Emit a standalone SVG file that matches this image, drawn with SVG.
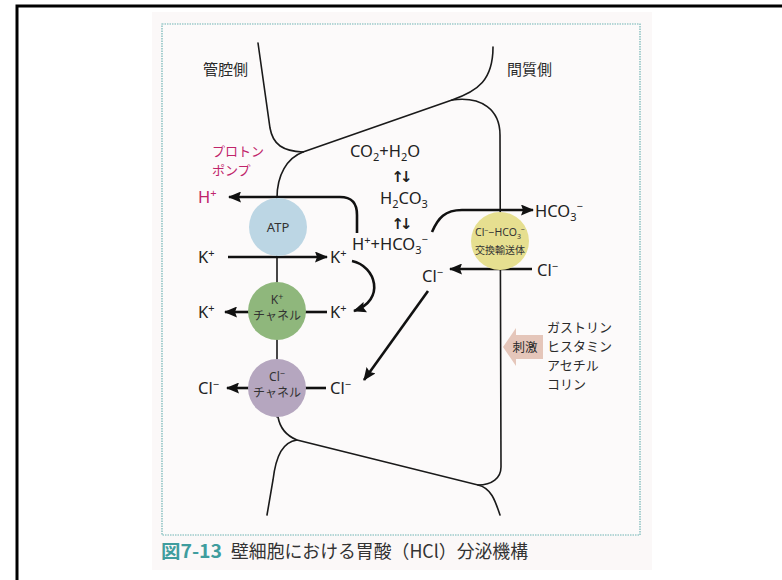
<svg xmlns="http://www.w3.org/2000/svg" width="782" height="580" viewBox="0 0 782 580">
  <style>
    .mem { fill: none; stroke: #1a1a1a; stroke-width: 1.6; stroke-linecap: round; }
    .arr { fill: none; stroke: #111; stroke-width: 2.6; }
    .seg { fill: none; stroke: #111; stroke-width: 2.6; }
    .ion { font-family: "Noto Sans", "Open Sans", sans-serif; font-size: 16.5px; fill: #222; }
    .jp { font-family: "Noto Sans CJK JP", sans-serif; fill: #2a2a2a; }
    .pink { fill: #c0246a; }
    .small { font-family: "Noto Sans", "Noto Sans CJK JP", sans-serif; fill: #333; text-anchor: middle; }
    .eq { font-family: "DejaVu Sans", sans-serif; font-size: 15px; font-weight: bold; fill: #222; text-anchor: middle; letter-spacing: -4px; }
  </style>
  <defs>
    <marker id="head" markerUnits="userSpaceOnUse" markerWidth="13" markerHeight="11" viewBox="0 0 13 11" refX="12" refY="5.5" orient="auto">
      <path d="M0,0 L13,5.5 L0,11 L2,5.5 z" fill="#111"/>
    </marker>
  </defs>

  <!-- page frame and printed page -->
  <rect x="0" y="0" width="782" height="580" fill="#ffffff"/>
  <rect x="17" y="6" width="800" height="600" fill="none" stroke="#000" stroke-width="3"/>
  <rect x="152" y="12" width="500" height="558" fill="#fbf8f8"/>
  <rect x="162" y="24" width="478" height="511" fill="#fcfafa" stroke="#6fb4b4" stroke-width="1.2" stroke-dasharray="1.5 1"/>

  <!-- cell membranes -->
  <g id="membranes">
    <path class="mem" d="M258,43 L270,128 C273,145 283,151 303,152"/>
    <path class="mem" d="M303,152 L452,100 C478,91 493,80 493,47"/>
    <path class="mem" d="M303,152 C287,158 277,175 277,198 L277,417"/>
    <path class="mem" d="M452,100 C482,96 500,110 500,135 L501,467 C501,478 492,485 478,485 L297,440 C287,436 280,428 278,417"/>
    <path class="mem" d="M297,440 C283,442 276,455 273,480 L267,515"/>
    <path class="mem" d="M478,485 C491,488 495,500 500,515"/>
  </g>

  <!-- connectors -->
  <g id="connectors">
    <path class="arr" d="M357,233 L357,215 C357,203 352,197 340,197 L229,197" marker-end="url(#head)"/>
    <path class="arr" d="M228,257 L327,257" marker-end="url(#head)"/>
    <path class="arr" d="M352,261 C376,266 386,300 354,311" marker-end="url(#head)"/>
    <path class="arr" d="M250,312 L225,312" marker-end="url(#head)"/>
    <path class="seg" d="M305,312 L327,312"/>
    <path class="arr" d="M250,388 L227,388" marker-end="url(#head)"/>
    <path class="seg" d="M305,388 L326,388"/>
    <path class="arr" d="M428,291 L364,380" marker-end="url(#head)"/>
    <path class="arr" d="M432,232 C438,218 445,210 462,210 L533,210" marker-end="url(#head)"/>
    <path class="arr" d="M532,269 L450,269" marker-end="url(#head)"/>
  </g>

  <!-- proton pump -->
  <g id="proton-pump">
    <circle cx="278" cy="227" r="29" fill="#bcd6e4"/>
    <text class="small pink" x="278" y="232" font-size="13">ATP</text>
  </g>

  <!-- K+ channel -->
  <g id="k-channel">
    <circle cx="277" cy="311" r="29" fill="#8fb77c"/>
    <text class="small" x="277" y="304" font-size="12">K<tspan font-size="9" dy="-4">+</tspan></text>
    <text class="small" x="277" y="320" font-size="12">チャネル</text>
  </g>

  <!-- Cl- channel -->
  <g id="cl-channel">
    <circle cx="277" cy="388" r="29" fill="#b5a6bf"/>
    <text class="small" x="277" y="381" font-size="12">Cl<tspan font-size="9" dy="-4">−</tspan></text>
    <text class="small" x="277" y="397" font-size="12">チャネル</text>
  </g>

  <!-- Cl- / HCO3- exchanger -->
  <g id="exchanger">
    <circle cx="500" cy="241" r="29" fill="#e6df90"/>
    <text class="small" x="500" y="236" font-size="10.5">Cl<tspan font-size="7" dy="-3">−</tspan><tspan dy="3">−HCO</tspan><tspan font-size="7" dy="3">3</tspan><tspan font-size="7" dy="-7">−</tspan></text>
    <text class="small" x="500" y="254" font-size="10">交換輸送体</text>
  </g>

  <!-- stimulus -->
  <g id="stimulus">
    <path d="M503,347 L516,328 L516,335 L543,335 L543,359 L516,359 L516,366 z" fill="#e5c6ba"/>
    <text class="jp" x="525" y="352" font-size="12.5" text-anchor="middle">刺激</text>
    <text class="jp" x="547" y="332" font-size="13">ガストリン</text>
    <text class="jp" x="547" y="351" font-size="13">ヒスタミン</text>
    <text class="jp" x="547" y="370" font-size="13">アセチル</text>
    <text class="jp" x="547" y="389" font-size="13">コリン</text>
  </g>

  <!-- side labels -->
  <g id="labels">
    <text class="jp" x="203" y="75" font-size="15">管腔側</text>
    <text class="jp" x="507" y="75" font-size="15">間質側</text>
    <text class="jp pink" x="212" y="156" font-size="13">プロトン</text>
    <text class="jp pink" x="212" y="175" font-size="13">ポンプ</text>
  </g>

  <!-- ions -->
  <g id="ions">
    <text class="ion pink" x="198" y="203">H<tspan font-size="11" dy="-6">+</tspan></text>
    <text class="ion" x="198" y="263">K<tspan font-size="11" dy="-6">+</tspan></text>
    <text class="ion" x="330" y="263">K<tspan font-size="11" dy="-6">+</tspan></text>
    <text class="ion" x="198" y="318">K<tspan font-size="11" dy="-6">+</tspan></text>
    <text class="ion" x="330" y="318">K<tspan font-size="11" dy="-6">+</tspan></text>
    <text class="ion" x="198" y="394">Cl<tspan font-size="11" dy="-6">−</tspan></text>
    <text class="ion" x="330" y="394">Cl<tspan font-size="11" dy="-6">−</tspan></text>
    <text class="ion" x="422" y="282">Cl<tspan font-size="11" dy="-6">−</tspan></text>
    <text class="ion" x="537" y="276">Cl<tspan font-size="11" dy="-6">−</tspan></text>
    <text class="ion" x="535" y="217">HCO<tspan font-size="11" dy="4">3</tspan><tspan font-size="11" dy="-11">−</tspan></text>
  </g>

  <!-- carbonic acid equilibrium -->
  <g id="equilibrium">
    <text class="ion" x="350" y="157">CO<tspan font-size="11" dy="4">2</tspan><tspan dy="-4">+H</tspan><tspan font-size="11" dy="4">2</tspan><tspan dy="-4">O</tspan></text>
    <text class="eq" x="400" y="182">↑↓</text>
    <text class="ion" x="380" y="204">H<tspan font-size="11" dy="4">2</tspan><tspan dy="-4">CO</tspan><tspan font-size="11" dy="4">3</tspan></text>
    <text class="eq" x="400" y="229">↑↓</text>
    <text class="ion" x="352" y="250">H<tspan font-size="11" dy="-6">+</tspan><tspan dy="6">+HCO</tspan><tspan font-size="11" dy="4">3</tspan><tspan font-size="11" dy="-11">−</tspan></text>
  </g>

  <!-- caption -->
  <g id="caption">
    <text x="161" y="558" font-family="'Noto Sans CJK JP', sans-serif" font-size="18" font-weight="bold" fill="#3f9d9e" textLength="61" lengthAdjust="spacingAndGlyphs">図7-13</text>
    <text x="231" y="558" font-family="'Noto Sans CJK JP', sans-serif" font-size="18" fill="#333" textLength="297" lengthAdjust="spacingAndGlyphs">壁細胞における胃酸（HCl）分泌機構</text>
  </g>
</svg>
